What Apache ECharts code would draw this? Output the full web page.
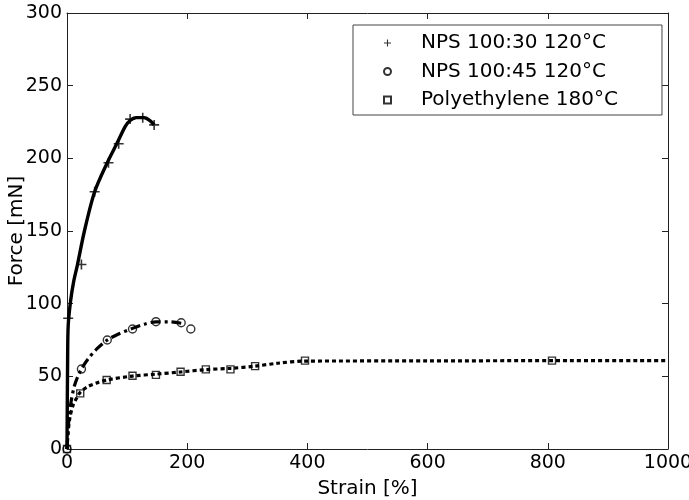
<!DOCTYPE html>
<html>
<head>
<meta charset="utf-8">
<script src="https://cdn.jsdelivr.net/npm/echarts@6/dist/echarts.min.js"></script>
<style>html,body{margin:0;padding:0;background:#fff;}#c{width:689px;height:500px;}</style>
</head>
<body>
<div id="c"></div>
<script>
// ---- data ----
const seriesNames = ['NPS 100:30 120°C', 'NPS 100:45 120°C', 'Polyethylene 180°C'];
const xTicks = [0, 200, 400, 600, 800, 1000];
const yTicks = [0, 50, 100, 150, 200, 250, 300];

// NPS 100:30 fitted curve and measured points
const s1LineX = [0, 1, 2, 6, 11, 17, 29, 46, 67, 84, 97, 105, 115, 128, 138, 145];
const s1LineY = [0, 60, 85, 102, 115, 126, 150, 177, 197, 211, 222, 226, 228, 228, 226, 223];
const s1PtsX = [2, 24, 46, 69, 86, 105, 126, 145];
const s1PtsY = [90, 127, 177, 197, 210, 227, 228, 223];

// NPS 100:45
const s2LineX = [0, 3, 7, 12, 18, 24, 35, 50, 67, 85, 109, 130, 148, 170, 190];
const s2LineY = [0, 20, 33, 43, 50, 55, 62, 69, 75, 79, 83, 86, 87.5, 87.5, 86.5];
const s2PtsX = [0, 24, 67, 109, 148, 190, 206];
const s2PtsY = [0, 55, 75, 82.6, 87.6, 86.9, 82.6];

// Polyethylene
const s3LineX = [0, 2, 5, 10, 16, 22, 35, 50, 66, 109, 148, 189, 231, 272, 313, 350, 396, 600, 807, 1000];
const s3LineY = [0, 12, 22, 30, 35, 39, 43, 45.5, 47.5, 50.2, 51.5, 53, 54.6, 55.5, 57, 59, 60.5, 60.6, 60.8, 60.8];
const s3PtsX = [0, 22, 66, 109, 148, 189, 231, 272, 313, 396, 807];
const s3PtsY = [0, 38.3, 47.5, 50.4, 51, 53.2, 54.8, 54.8, 57, 60.8, 60.8];

const zip = (a, b) => a.map((v, i) => [v, b[i]]);

const FONT = 'DejaVu Sans';
const plusPath = 'path://M0,4.2H10V5.8H0Z M4.2,0H5.8V10H4.2Z';
const hollow = { color: 'rgba(255,255,255,0)', borderColor: '#000', borderWidth: 1.4 };

const chart = echarts.init(document.getElementById('c'), null, { renderer: 'canvas' });
const axisLineStyle = { color: '#222', width: 1 };
chart.setOption({
  animation: false,
  backgroundColor: '#fff',
  grid: { left: 67, right: 21, top: 13, bottom: 51, containLabel: false, outerBoundsMode: 'none' },
  legend: {
    data: seriesNames,
    orient: 'vertical',
    left: 353, top: 25,
    padding: [8, 44, 5, 30],
    itemWidth: 7, itemHeight: 7,
    itemGap: 8.5,
    borderColor: '#444', borderWidth: 1,
    backgroundColor: '#fff',
    textStyle: { fontFamily: FONT, fontSize: 20, color: '#000', lineHeight: 20, padding: [0, 0, 0, 25] }
  },
  xAxis: [{
    type: 'value', min: 0, max: 1000, interval: 200,
    name: 'Strain [%]', nameLocation: 'middle', nameGap: 30, nameMoveOverlap: false,
    nameTextStyle: { fontFamily: FONT, fontSize: 20, color: '#000' },
    axisLine: { show: true, onZero: false, lineStyle: axisLineStyle },
    axisTick: { show: true, inside: true, length: 6, lineStyle: axisLineStyle },
    axisLabel: { fontFamily: FONT, fontSize: 19, color: '#000', margin: 5, showMaxLabel: true, showMinLabel: true,
      formatter: v => String(v) },
    splitLine: { show: false }
  }, {
    type: 'value', min: 0, max: 1000, interval: 200, position: 'top',
    axisLine: { show: true, onZero: false, lineStyle: axisLineStyle },
    axisTick: { show: true, inside: true, length: 6, lineStyle: axisLineStyle },
    axisLabel: { show: false }, splitLine: { show: false }
  }],
  yAxis: [{
    type: 'value', min: 0, max: 300, interval: 50,
    name: 'Force [mN]', nameLocation: 'middle', nameGap: 40, nameRotate: 90, nameMoveOverlap: false,
    nameTextStyle: { fontFamily: FONT, fontSize: 20, color: '#000' },
    axisLine: { show: true, onZero: false, lineStyle: axisLineStyle },
    axisTick: { show: true, inside: true, length: 6, lineStyle: axisLineStyle },
    axisLabel: { fontFamily: FONT, fontSize: 19, color: '#000', margin: 5, showMaxLabel: true, showMinLabel: true },
    splitLine: { show: false }
  }, {
    type: 'value', min: 0, max: 300, interval: 50, position: 'right',
    axisLine: { show: true, onZero: false, lineStyle: axisLineStyle },
    axisTick: { show: true, inside: true, length: 6, lineStyle: axisLineStyle },
    axisLabel: { show: false }, splitLine: { show: false }
  }],
  series: [
    { name: 'fit1', type: 'line', data: zip(s1LineX, s1LineY), showSymbol: false, symbol: 'none', smooth: 0.3,
      lineStyle: { color: '#000', width: 3.4, type: 'solid' }, z: 2, silent: true },
    { name: 'fit2', type: 'line', data: zip(s2LineX, s2LineY), showSymbol: false, symbol: 'none', smooth: 0.3,
      lineStyle: { color: '#000', width: 3.2, type: [10, 4, 3, 4] }, z: 2, silent: true },
    { name: 'fit3', type: 'line', data: zip(s3LineX, s3LineY), showSymbol: false, symbol: 'none', smooth: 0.3,
      lineStyle: { color: '#000', width: 3.2, type: [4, 3] }, z: 2, silent: true },
    { name: seriesNames[0], type: 'scatter', data: zip(s1PtsX, s1PtsY), symbol: plusPath, symbolSize: 10,
      itemStyle: { color: '#000' }, z: 3 },
    { name: seriesNames[1], type: 'scatter', data: zip(s2PtsX, s2PtsY), symbol: 'circle', symbolSize: 8,
      itemStyle: hollow, z: 3 },
    { name: seriesNames[2], type: 'scatter', data: zip(s3PtsX, s3PtsY), symbol: 'rect', symbolSize: 7,
      itemStyle: hollow, z: 3 }
  ]
});
</script>
</body>
</html>
